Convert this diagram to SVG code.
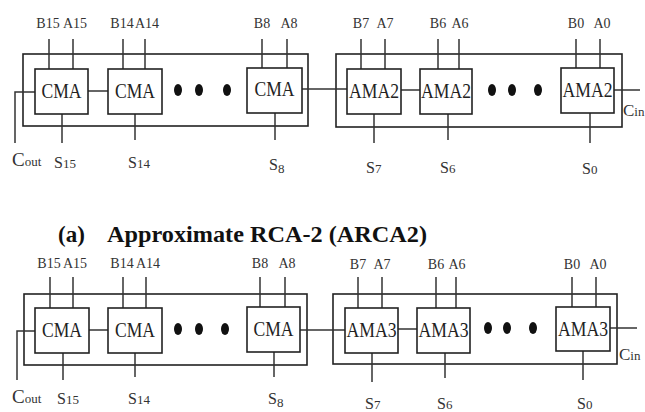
<svg xmlns="http://www.w3.org/2000/svg" width="645" height="412" viewBox="0 0 645 412">
<style>
.box{fill:#fff;stroke:#222;stroke-width:1.6}
.outer{fill:none;stroke:#222;stroke-width:1.6}
.w{fill:none;stroke:#333;stroke-width:1.5}
.dot{fill:#111}
.bt{font-family:"Liberation Serif","Times New Roman",serif;font-size:22px;fill:#222;text-anchor:middle}
.lb{font-family:"Liberation Serif","Times New Roman",serif;font-size:14px;fill:#333;text-anchor:middle}
.sl{font-family:"Liberation Serif","Times New Roman",serif;font-size:16px;fill:#333}
.sub{font-size:13px}
.cap{font-family:"Liberation Serif","Times New Roman",serif;font-size:23px;font-weight:bold;fill:#111}
</style>
<rect width="645" height="412" fill="#fff"/>

<!-- ===== Top diagram (ARCA2) ===== -->
<g id="top-left-block"><rect class="outer" x="23" y="54" width="285" height="72"/></g>
<g id="top-right-block"><rect class="outer" x="336" y="54" width="286" height="73"/></g>

<g id="connectors-top">
  <line class="w" x1="49" y1="39" x2="49" y2="69"/><line class="w" x1="73" y1="39" x2="73" y2="69"/>
  <line class="w" x1="123" y1="39" x2="123" y2="69"/><line class="w" x1="145" y1="39" x2="145" y2="69"/>
  <line class="w" x1="262" y1="39" x2="262" y2="68"/><line class="w" x1="287" y1="39" x2="287" y2="68"/>
  <line class="w" x1="361" y1="39" x2="361" y2="69"/><line class="w" x1="385" y1="39" x2="385" y2="69"/>
  <line class="w" x1="438" y1="39" x2="438" y2="69"/><line class="w" x1="459" y1="39" x2="459" y2="69"/>
  <line class="w" x1="576" y1="39" x2="576" y2="68"/><line class="w" x1="600" y1="39" x2="600" y2="68"/>
  <line class="w" x1="62" y1="114" x2="62" y2="143"/>
  <line class="w" x1="135" y1="114" x2="135" y2="140"/>
  <line class="w" x1="275" y1="113" x2="275" y2="140"/>
  <line class="w" x1="374" y1="114" x2="374" y2="143"/>
  <line class="w" x1="448" y1="114" x2="448" y2="140"/>
  <line class="w" x1="590" y1="113" x2="590" y2="143"/>
  <path class="w" d="M35,92 H15 V143"/>
  <line class="w" x1="88" y1="91" x2="108" y2="91"/>
  <line class="w" x1="302" y1="89" x2="347" y2="89"/>
  <line class="w" x1="401" y1="90" x2="420" y2="90"/>
  <line class="w" x1="614" y1="90" x2="640" y2="90"/>
</g>

<g id="t-cma15"><rect class="box" x="35" y="69" width="53" height="45"/><text class="bt" x="61.5" y="98" textLength="40" lengthAdjust="spacingAndGlyphs">CMA</text></g>
<g id="t-cma14"><rect class="box" x="108" y="69" width="54" height="45"/><text class="bt" x="135" y="98" textLength="40" lengthAdjust="spacingAndGlyphs">CMA</text></g>
<g id="t-cma8"><rect class="box" x="247" y="68" width="55" height="45"/><text class="bt" x="274.5" y="96" textLength="40" lengthAdjust="spacingAndGlyphs">CMA</text></g>
<g id="t-ama7"><rect class="box" x="347" y="69" width="54" height="45"/><text class="bt" x="374" y="98" textLength="50" lengthAdjust="spacingAndGlyphs">AMA2</text></g>
<g id="t-ama6"><rect class="box" x="420" y="69" width="52" height="45"/><text class="bt" x="446" y="98" textLength="50" lengthAdjust="spacingAndGlyphs">AMA2</text></g>
<g id="t-ama0"><rect class="box" x="561" y="68" width="53" height="45"/><text class="bt" x="587.5" y="97" textLength="50" lengthAdjust="spacingAndGlyphs">AMA2</text></g>

<g id="t-dots">
  <ellipse class="dot" cx="178" cy="90" rx="4" ry="6"/><ellipse class="dot" cx="199" cy="90" rx="4" ry="6"/><ellipse class="dot" cx="227" cy="90" rx="4" ry="6"/>
  <ellipse class="dot" cx="492" cy="90" rx="4" ry="6"/><ellipse class="dot" cx="512" cy="90" rx="4" ry="6"/><ellipse class="dot" cx="538" cy="90" rx="4" ry="6"/>
</g>

<g id="t-labels">
  <text class="lb" x="48" y="28">B15</text><text class="lb" x="75" y="28">A15</text>
  <text class="lb" x="122" y="28">B14</text><text class="lb" x="147" y="28">A14</text>
  <text class="lb" x="262" y="28">B8</text><text class="lb" x="289" y="28">A8</text>
  <text class="lb" x="361" y="28">B7</text><text class="lb" x="385" y="28">A7</text>
  <text class="lb" x="438" y="28">B6</text><text class="lb" x="460" y="28">A6</text>
  <text class="lb" x="576" y="28">B0</text><text class="lb" x="602" y="28">A0</text>
  <text class="sl" x="12" y="166" style="font-size:19px">C<tspan class="sub">out</tspan></text>
  <text class="sl" x="54" y="168">S<tspan class="sub">15</tspan></text>
  <text class="sl" x="128" y="168">S<tspan class="sub">14</tspan></text>
  <text class="sl" x="269" y="170">S<tspan class="sub" dy="3">8</tspan></text>
  <text class="sl" x="366" y="173">S<tspan class="sub">7</tspan></text>
  <text class="sl" x="440" y="173">S<tspan class="sub">6</tspan></text>
  <text class="sl" x="582" y="174">S<tspan class="sub">0</tspan></text>
  <text class="sl" x="623" y="116" style="font-size:17px">C<tspan class="sub">in</tspan></text>
</g>

<!-- caption -->
<g id="caption">
  <text class="cap" x="58" y="242">(a)</text>
  <text class="cap" x="107" y="242" textLength="320" lengthAdjust="spacingAndGlyphs">Approximate RCA-2 (ARCA2)</text>
</g>

<!-- ===== Bottom diagram (ARCA3) ===== -->
<g id="bottom-left-block"><rect class="outer" x="24" y="294" width="283" height="71"/></g>
<g id="bottom-right-block"><rect class="outer" x="333" y="294" width="284" height="70"/></g>

<g id="connectors-bottom">
  <line class="w" x1="50" y1="277" x2="50" y2="308"/><line class="w" x1="73" y1="277" x2="73" y2="308"/>
  <line class="w" x1="123" y1="277" x2="123" y2="308"/><line class="w" x1="146" y1="277" x2="146" y2="308"/>
  <line class="w" x1="260" y1="277" x2="260" y2="307"/><line class="w" x1="285" y1="277" x2="285" y2="307"/>
  <line class="w" x1="358" y1="277" x2="358" y2="308"/><line class="w" x1="382" y1="277" x2="382" y2="308"/>
  <line class="w" x1="436" y1="277" x2="436" y2="308"/><line class="w" x1="456" y1="277" x2="456" y2="308"/>
  <line class="w" x1="572" y1="277" x2="572" y2="307"/><line class="w" x1="596" y1="277" x2="596" y2="307"/>
  <line class="w" x1="63" y1="353" x2="63" y2="380"/>
  <line class="w" x1="135" y1="353" x2="135" y2="377"/>
  <line class="w" x1="274" y1="352" x2="274" y2="377"/>
  <line class="w" x1="372" y1="353" x2="372" y2="382"/>
  <line class="w" x1="445" y1="353" x2="445" y2="378"/>
  <line class="w" x1="583" y1="351" x2="583" y2="380"/>
  <path class="w" d="M35,331 H17 V380"/>
  <line class="w" x1="89" y1="330" x2="108" y2="330"/>
  <line class="w" x1="300" y1="330" x2="345" y2="330"/>
  <line class="w" x1="398" y1="329" x2="417" y2="329"/>
  <line class="w" x1="610" y1="328" x2="637" y2="328"/>
</g>

<g id="b-cma15"><rect class="box" x="35" y="308" width="54" height="45"/><text class="bt" x="62" y="337" textLength="40" lengthAdjust="spacingAndGlyphs">CMA</text></g>
<g id="b-cma14"><rect class="box" x="108" y="308" width="54" height="45"/><text class="bt" x="135" y="337" textLength="40" lengthAdjust="spacingAndGlyphs">CMA</text></g>
<g id="b-cma8"><rect class="box" x="247" y="307" width="53" height="45"/><text class="bt" x="273.5" y="336" textLength="40" lengthAdjust="spacingAndGlyphs">CMA</text></g>
<g id="b-ama7"><rect class="box" x="345" y="308" width="53" height="45"/><text class="bt" x="371.5" y="337" textLength="50" lengthAdjust="spacingAndGlyphs">AMA3</text></g>
<g id="b-ama6"><rect class="box" x="417" y="308" width="53" height="45"/><text class="bt" x="443.5" y="337" textLength="50" lengthAdjust="spacingAndGlyphs">AMA3</text></g>
<g id="b-ama0"><rect class="box" x="556" y="307" width="54" height="44"/><text class="bt" x="583" y="336" textLength="50" lengthAdjust="spacingAndGlyphs">AMA3</text></g>

<g id="b-dots">
  <ellipse class="dot" cx="178" cy="329" rx="4" ry="6"/><ellipse class="dot" cx="199" cy="329" rx="4" ry="6"/><ellipse class="dot" cx="225" cy="329" rx="4" ry="6"/>
  <ellipse class="dot" cx="488" cy="328" rx="4" ry="6"/><ellipse class="dot" cx="507" cy="328" rx="4" ry="6"/><ellipse class="dot" cx="533" cy="328" rx="4" ry="6"/>
</g>

<g id="b-labels">
  <text class="lb" x="49" y="268">B15</text><text class="lb" x="75" y="268">A15</text>
  <text class="lb" x="122" y="268">B14</text><text class="lb" x="148" y="268">A14</text>
  <text class="lb" x="260" y="268">B8</text><text class="lb" x="287" y="268">A8</text>
  <text class="lb" x="358" y="269">B7</text><text class="lb" x="382" y="269">A7</text>
  <text class="lb" x="436" y="269">B6</text><text class="lb" x="457" y="269">A6</text>
  <text class="lb" x="572" y="269">B0</text><text class="lb" x="598" y="269">A0</text>
  <text class="sl" x="12" y="403" style="font-size:19px">C<tspan class="sub">out</tspan></text>
  <text class="sl" x="57" y="404">S<tspan class="sub">15</tspan></text>
  <text class="sl" x="128" y="404">S<tspan class="sub">14</tspan></text>
  <text class="sl" x="268" y="404">S<tspan class="sub" dy="3">8</tspan></text>
  <text class="sl" x="365" y="409">S<tspan class="sub">7</tspan></text>
  <text class="sl" x="437" y="409">S<tspan class="sub">6</tspan></text>
  <text class="sl" x="577" y="409">S<tspan class="sub">0</tspan></text>
  <text class="sl" x="619" y="360" style="font-size:17px">C<tspan class="sub">in</tspan></text>
</g>
</svg>
